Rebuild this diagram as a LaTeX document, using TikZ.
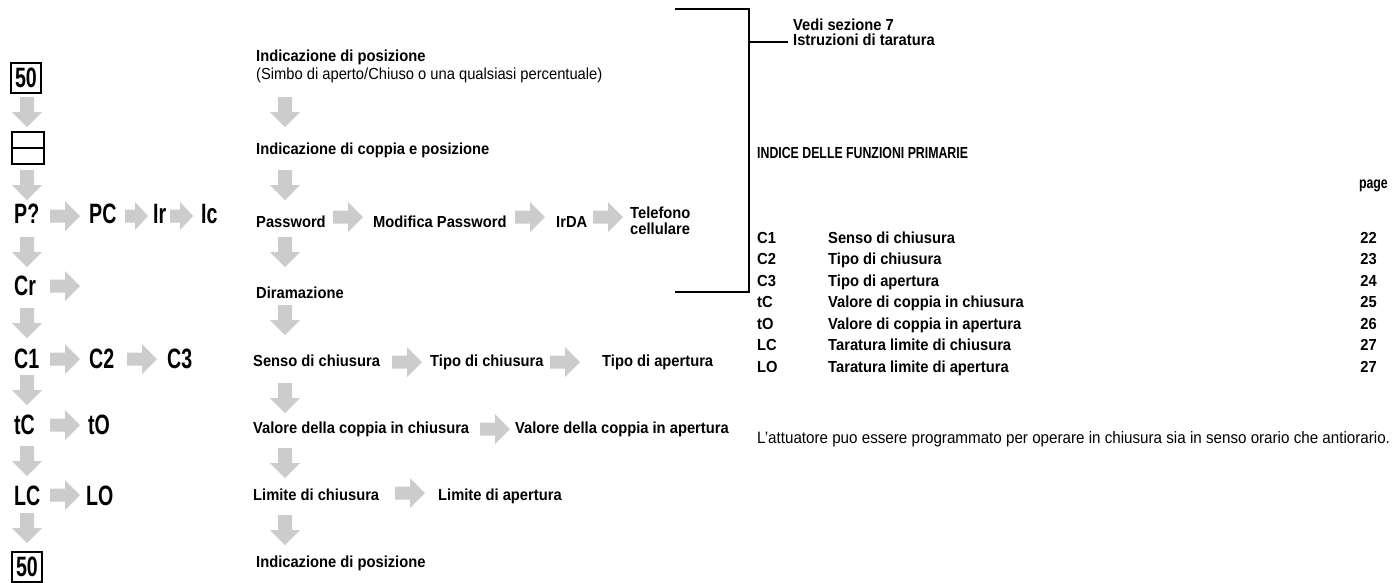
\documentclass[tikz,border=0pt]{standalone}
\usepackage{fontspec}
\setmainfont{Liberation Sans}[FakeStretch=0.92]
\newfontfamily\bigfam{Liberation Sans}[FakeStretch=0.7]
\newfontfamily\narrowfam{Liberation Sans}[FakeStretch=0.77]
\definecolor{agray}{RGB}{204,204,204}
\newcommand\fB{\fontsize{16}{16}\selectfont\bfseries}
\newcommand\fN{\narrowfam\fontsize{16}{16}\selectfont\bfseries}
\newcommand\fR{\fontsize{16}{16}\selectfont}
\newcommand\fS{\fontsize{16.5}{16.5}\selectfont}
\newcommand\fBig{\bigfam\fontsize{28}{28}\selectfont\bfseries}
\begin{document}
\begin{tikzpicture}[x=1pt,y=-1pt,
  lbl/.style={anchor=base west,inner sep=0pt,font=\fB},
  nlbl/.style={anchor=base west,inner sep=0pt,font=\fN},
  reg/.style={anchor=base west,inner sep=0pt,font=\fR},
  sent/.style={anchor=base west,inner sep=0pt,font=\fS},
  num/.style={anchor=base east,inner sep=0pt,font=\fB},
  code/.style={anchor=base west,inner sep=0pt,font=\fBig},
  dispbox/.style={draw,line width=1.5pt,minimum width=30pt,minimum height=30pt,inner sep=0pt,font=\fBig},
  bracket/.style={line width=2pt},
  darr/.pic={\fill[agray] (-7,0) -- (7,0) -- (7,15) -- (15,15) -- (0,30) -- (-15,15) -- (-7,15) -- cycle;},
  rarr/.pic={\fill[agray] (0,-6.5) -- (15,-6.5) -- (15,-15) -- (30,0) -- (15,15) -- (15,6.5) -- (0,6.5) -- cycle;},
  rarrs/.pic={\fill[agray] (0,-6.5) -- (10,-6.5) -- (10,-14) -- (23,0) -- (10,14) -- (10,6.5) -- (0,6.5) -- cycle;},
]
\fill[white] (0,0) rectangle (1393,582);
\useasboundingbox (0,0) rectangle (1393,582);

% ---------- left column ----------
\node[dispbox] (s50a) at (26,78) {50};
\pic at (27,97) {darr};
\node[draw,line width=1.5pt,minimum width=32pt,minimum height=32pt,inner sep=0pt] (disp) at (28,148) {};
\draw[line width=1.5pt] (disp.west) -- (disp.east);
\pic at (27,170) {darr};
\node[code] (cP) at (14,223) {P?};
\pic at (50,216) {rarr};
\node[code] (cPC) at (89,223) {PC};
\pic at (125,216) {rarrs};
\node[code] (cIr) at (153,223) {Ir};
\pic at (170,216) {rarrs};
\node[code] (cIc) at (201,223) {Ic};
\pic at (27,237) {darr};
\node[code] (cCr) at (14,295) {Cr};
\pic at (50,286) {rarr};
\pic at (27,308) {darr};
\node[code] (cC1) at (14,368) {C1};
\pic at (50,359) {rarr};
\node[code] (cC2) at (89,368) {C2};
\pic at (127,359) {rarr};
\node[code] (cC3) at (167,368) {C3};
\pic at (27,375) {darr};
\node[code] (ctC) at (14,434) {tC};
\pic at (50,425) {rarr};
\node[code] (ctO) at (88,434) {tO};
\pic at (27,446) {darr};
\node[code] (cLC) at (14,505) {LC};
\pic at (50,495) {rarr};
\node[code] (cLO) at (86,505) {LO};
\pic at (27,513) {darr};
\node[dispbox] (s50b) at (27,567) {50};

% ---------- middle column ----------
\node[lbl] (m1) at (256,61) {Indicazione di posizione};
\node[reg] (m1b) at (256,79) {(Simbo di aperto/Chiuso o una qualsiasi percentuale)};
\pic at (285,97) {darr};
\node[lbl] (m2) at (256,154) {Indicazione di coppia e posizione};
\pic at (285,170) {darr};
\node[lbl] (m3) at (256,227) {Password};
\pic at (333,217) {rarr};
\node[lbl] (m3b) at (373,227) {Modifica Password};
\pic at (515,217) {rarr};
\node[lbl] (m3c) at (556,227) {IrDA};
\pic at (593,217) {rarr};
\node[lbl] (m3d) at (630,218) {Telefono};
\node[lbl] (m3e) at (630,234) {cellulare};
\pic at (285,237) {darr};
\node[lbl] (m4) at (256,298) {Diramazione};
\pic at (285,305) {darr};
\node[lbl] (m5) at (253,366) {Senso di chiusura};
\pic at (392,362) {rarr};
\node[lbl] (m5b) at (430,366) {Tipo di chiusura};
\pic at (550,362) {rarr};
\node[lbl] (m5c) at (602,366) {Tipo di apertura};
\pic at (285,383) {darr};
\node[lbl] (m6) at (253,433) {Valore della coppia in chiusura};
\pic at (480,429) {rarr};
\node[lbl] (m6b) at (515,433) {Valore della coppia in apertura};
\pic at (285,448) {darr};
\node[lbl] (m7) at (253,500) {Limite di chiusura};
\pic at (395,493) {rarr};
\node[lbl] (m7b) at (438,500) {Limite di apertura};
\pic at (285,515) {darr};
\node[lbl] (m8) at (256,567) {Indicazione di posizione};

% ---------- bracket ----------
\coordinate (bt) at (675,9);
\coordinate (btc) at (749,9);
\coordinate (bbc) at (749,292);
\coordinate (bb) at (675,292);
\coordinate (bm) at (749,42);
\coordinate (bme) at (788,42);
\draw[bracket] (bt) -- (btc) -- (bbc) -- (bb);
\draw[bracket] (bm) -- (bme);
\node[lbl] (vedi) at (793,30) {Vedi sezione 7};
\node[lbl] (istr) at (793,45) {Istruzioni di taratura};

% ---------- index ----------
\node[nlbl] (idx) at (757,158) {INDICE DELLE FUNZIONI PRIMARIE};
\node[nlbl,anchor=base east] (page) at (1388,188) {page};
\foreach \k/\dsc/\pg [count=\i from 0] in {C1/Senso di chiusura/22, C2/Tipo di chiusura/23, C3/Tipo di apertura/24, tC/Valore di coppia in chiusura/25, tO/Valore di coppia in apertura/26, LC/Taratura limite di chiusura/27, LO/Taratura limite di apertura/27}{
  \node[lbl] (k\i) at (757,243+21.5*\i) {\k};
  \node[lbl] (d\i) at (828,243+21.5*\i) {\dsc};
  \node[num] (p\i) at (1377,243+21.5*\i) {\pg};
}
\node[sent] (note) at (757,443) {L'attuatore puo essere programmato per operare in chiusura sia in senso orario che antiorario.};
\end{tikzpicture}
\end{document}
